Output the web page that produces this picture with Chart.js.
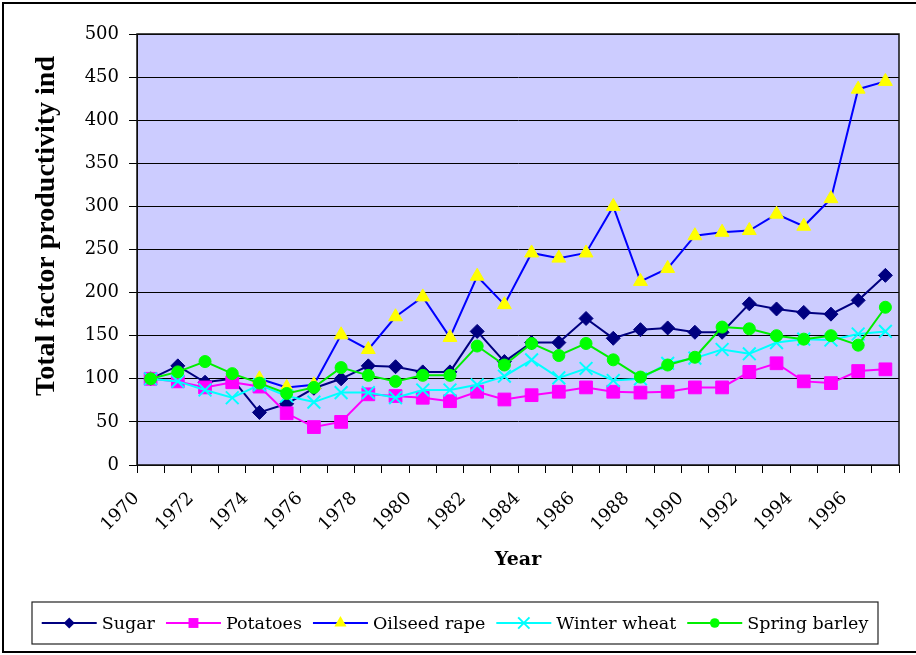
<!DOCTYPE html>
<html><head><meta charset="utf-8">
<script src="https://cdn.jsdelivr.net/npm/chart.js@4/dist/chart.umd.min.js"></script>
<style>html,body{margin:0;padding:0;background:#fff}canvas{display:block}</style>
</head><body>
<canvas id="c" width="916" height="655"></canvas>
<script>
const years = ['1970','1971','1972','1973','1974','1975','1976','1977','1978','1979','1980','1981','1982','1983','1984','1985','1986','1987','1988','1989','1990','1991','1992','1993','1994','1995','1996','1997'];
const tickLabels = ['1970','1972','1974','1976','1978','1980','1982','1984','1986','1988','1990','1992','1994','1996'];
const yTicks = [0,50,100,150,200,250,300,350,400,450,500];
const sugar = [100,115,96,100,61,71,89,100,115,114,108,108,155,120,142,142,170,147,157,159,154,154,187,181,177,175,191,220];
const potatoes = [100,97,90,96,91,60,44,50,82,80,78,74,85,76,81,85,90,85,84,85,90,90,108,118,97,95,109,111];
const oilseedRape = [null,null,null,null,100,90,93,151,134,172,195,148,219,186,246,240,246,300,213,228,266,270,272,291,277,309,436,445];
const winterWheat = [100,97,87,78,93,80,73,84,84,78,87,87,93,103,122,101,112,98,100,118,124,134,129,142,146,145,152,155];
const springBarley = [100,108,120,106,95,83,90,113,104,97,104,104,138,116,141,127,141,122,102,116,125,160,158,150,146,150,139,183];
const yTitle = 'Total factor productivity ind';
const xTitle = 'Year';

const SERIF = '"DejaVu Serif", "Liberation Serif", serif';

function mk(label, data, line, fill, style, r, bw, order){
  return {label, data, borderColor:line, backgroundColor:fill, borderWidth:2,
    pointStyle:style, pointRadius:r, pointHoverRadius:r, pointBackgroundColor:fill,
    pointBorderColor: style==='crossRot'?line:fill, pointBorderWidth:bw, tension:0, order, fill:false};
}

function drawMarker(ctx, style, x, y, r, fill, stroke, bw){
  ctx.save();
  ctx.fillStyle = fill; ctx.strokeStyle = stroke; ctx.lineWidth = bw;
  ctx.beginPath();
  if (style==='rectRot'){ ctx.moveTo(x-r,y); ctx.lineTo(x,y-r); ctx.lineTo(x+r,y); ctx.lineTo(x,y+r); ctx.closePath(); ctx.fill(); }
  else if (style==='rect'){ const s=r*Math.SQRT1_2; ctx.rect(x-s,y-s,2*s,2*s); ctx.fill(); }
  else if (style==='triangle'){ ctx.moveTo(x,y-r); ctx.lineTo(x+r*0.866,y+r*0.5); ctx.lineTo(x-r*0.866,y+r*0.5); ctx.closePath(); ctx.fill(); }
  else if (style==='circle'){ ctx.arc(x,y,r,0,Math.PI*2); ctx.fill(); }
  else if (style==='crossRot'){ const s=r*Math.SQRT1_2; ctx.moveTo(x-s,y-s); ctx.lineTo(x+s,y+s); ctx.moveTo(x-s,y+s); ctx.lineTo(x+s,y-s); ctx.stroke(); }
  ctx.restore();
}

const deco = {
  id:'deco',
  beforeDraw(chart){
    const {ctx, chartArea:a} = chart;
    ctx.save();
    ctx.fillStyle='#fff'; ctx.fillRect(0,0,chart.width,chart.height);
    ctx.fillStyle='#CCCCFF'; ctx.fillRect(a.left,a.top,a.right-a.left,a.bottom-a.top);
    ctx.restore();
  },
  afterDraw(chart){
    const {ctx, chartArea:a} = chart;
    ctx.save();
    ctx.strokeStyle='#000'; ctx.lineWidth=2;
    ctx.strokeRect(3,3,940,649);
    ctx.strokeStyle='#111'; ctx.lineWidth=1.5;
    ctx.strokeRect(a.left,a.top,a.right-a.left,a.bottom-a.top);
    ctx.fillStyle='#000';
    ctx.font='bold 28px "Liberation Serif", serif';
    ctx.textAlign='center'; ctx.textBaseline='alphabetic';
    ctx.translate(54,226); ctx.rotate(-Math.PI/2);
    ctx.fillText(yTitle,0,0);
    ctx.restore();

    ctx.save();
    const box = {l:32, t:602, r:878, b:644};
    ctx.fillStyle='#fff'; ctx.fillRect(box.l,box.t,box.r-box.l,box.b-box.t);
    ctx.strokeStyle='#222'; ctx.lineWidth=1.2;
    ctx.strokeRect(box.l,box.t,box.r-box.l,box.b-box.t);
    ctx.font='17.5px '+SERIF;
    const lineLen=55, gapText=5, gapItem=11;
    const ds = chart.data.datasets;
    const ws = ds.map(d=>ctx.measureText(d.label).width);
    let total = ws.reduce((s,w)=>s+lineLen+gapText+w,0)+gapItem*(ds.length-1);
    let x = (box.l+box.r)/2 - total/2;
    const y = (box.t+box.b)/2;
    ds.forEach((d,i)=>{
      ctx.strokeStyle=d.borderColor; ctx.lineWidth=2;
      ctx.beginPath(); ctx.moveTo(x,y); ctx.lineTo(x+lineLen,y); ctx.stroke();
      const legR = {rectRot:5.5, rect:7, triangle:7, circle:4.8, crossRot:8}[d.pointStyle];
      drawMarker(ctx, d.pointStyle, x+lineLen/2, y, legR, d.pointBackgroundColor, d.pointBorderColor, 2);
      ctx.fillStyle='#000'; ctx.textAlign='left'; ctx.textBaseline='middle';
      ctx.fillText(d.label, x+lineLen+gapText, y+1);
      x += lineLen+gapText+ws[i]+gapItem;
    });
    ctx.restore();
  }
};

new Chart(document.getElementById('c'), {
  type:'line',
  data:{
    labels: years,
    datasets:[
      mk('Sugar', sugar, '#000080', '#000080', 'rectRot', 7, 1, 5),
      mk('Potatoes', potatoes, '#FF00FF', '#FF00FF', 'rect', 9, 1, 4),
      mk('Oilseed rape', oilseedRape, '#0000FF', '#FFFF00', 'triangle', 8, 1, 3),
      mk('Winter wheat', winterWheat, '#00FFFF', '#00FFFF', 'crossRot', 9, 2, 2),
      mk('Spring barley', springBarley, '#00EE00', '#00FF00', 'circle', 6, 1, 1)
    ]
  },
  options:{
    responsive:false, animation:false,
    layout:{padding:{left:10, top:34, right:17, bottom:65}},
    plugins:{legend:{display:false}, tooltip:{enabled:false}},
    scales:{
      x:{
        type:'category', offset:true,
        grid:{offset:true, drawOnChartArea:false, drawTicks:true, tickLength:8, color:'#000'},
        border:{display:true, color:'#000', width:1},
        ticks:{autoSkip:false, minRotation:45, maxRotation:45, padding:15, labelOffset:-14, color:'#000',
          font:{family:SERIF, size:18},
          callback:function(v){ const l=this.getLabelForValue(v); return tickLabels.includes(l)?l:''; }},
        title:{display:true, text:xTitle, color:'#000', font:{family:SERIF, size:19, weight:'bold'}, padding:{top:0,bottom:19}},
        afterFit(s){ s.height=125; s.paddingLeft=0; s.paddingRight=0; }
      },
      y:{
        min:0, max:500,
        grid:{color:'#000', lineWidth:1, tickLength:8, drawTicks:true},
        border:{display:true, color:'#000', width:1},
        ticks:{stepSize:50, padding:10, color:'#000', font:{family:SERIF, size:18},
          callback:function(v){ return yTicks.includes(v)?String(v):''; }},
        afterFit(s){ s.width=127; s.paddingTop=0; s.paddingBottom=0; }
      }
    }
  },
  plugins:[deco]
});
</script>
</body></html>
